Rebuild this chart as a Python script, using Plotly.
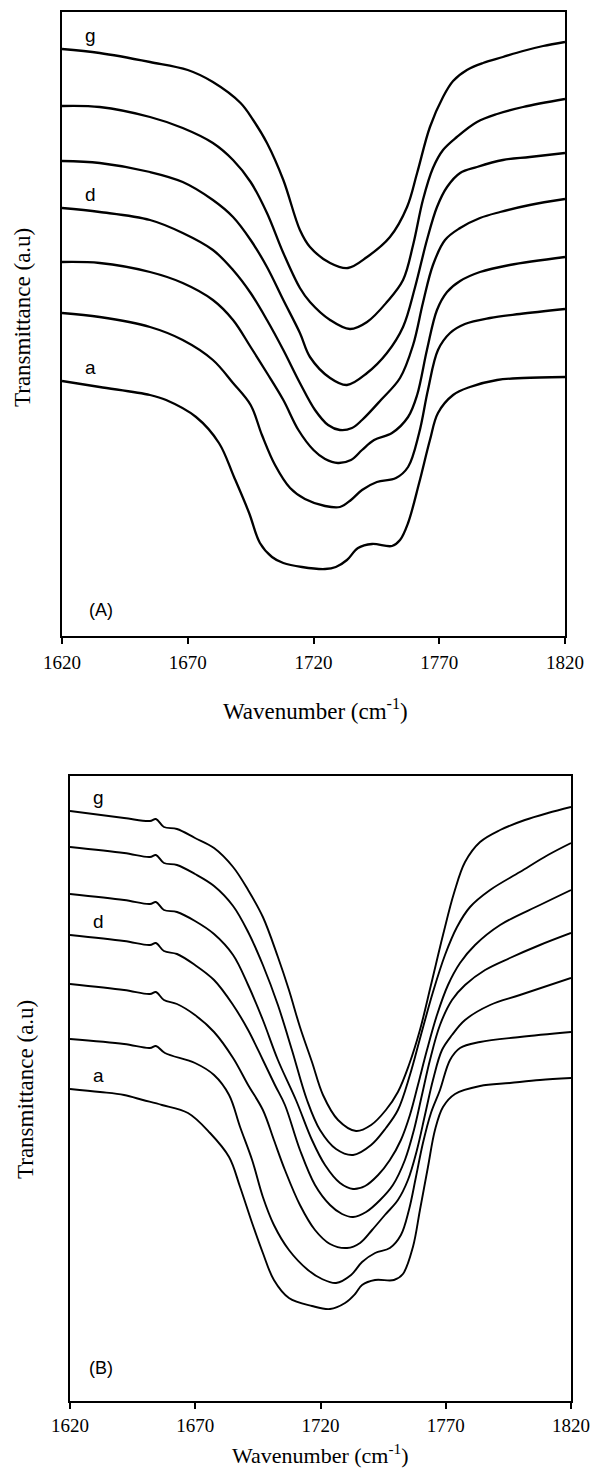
import plotly.graph_objects as go

# ---------------- data (wavenumber in cm-1, transmittance in arbitrary units) ----------------
wn_ticks = [1620, 1670, 1720, 1770, 1820]
curve_names = ["a", "b", "c", "d", "e", "f", "g"]
labelled_curves = ["a", "d", "g"]

# Panel (A)
A_g_wn = [1620, 1635, 1655, 1670, 1680, 1691, 1696, 1701.5, 1708, 1714.6, 1718.6, 1726.6, 1733.7, 1741.3, 1750.4, 1757.2, 1761.2, 1766.3, 1771.5, 1775.5, 1781, 1787.4, 1795.3, 1803.3, 1811.3, 1820]
A_g_T = [58.7, 58.3, 57.4, 56.6, 55.4, 53.3, 51.6, 49.3, 45.6, 40.6, 38.9, 37.3, 36.8, 37.9, 39.9, 42.9, 46.3, 50.9, 53.9, 55.5, 56.6, 57.3, 57.9, 58.5, 59.0, 59.4]

A_f_wn = [1620, 1635, 1655, 1668, 1680, 1688, 1695, 1701.5, 1708, 1714.6, 1718.6, 1726.6, 1734.5, 1741.3, 1749.2, 1755.6, 1759.6, 1763.5, 1767.5, 1771.5, 1777, 1785, 1793, 1803.3, 1820]
A_f_T = [53.0, 52.9, 51.9, 50.8, 49.3, 47.6, 45.4, 42.3, 38.3, 34.8, 33.4, 31.6, 30.7, 31.4, 33.4, 35.6, 39.1, 43.6, 46.8, 48.6, 49.9, 51.4, 52.2, 52.9, 53.7]

A_e_wn = [1620, 1635, 1655, 1668, 1680, 1688, 1695, 1701.5, 1708, 1714.6, 1718.6, 1726.6, 1733.3, 1741.3, 1749.2, 1755.6, 1760.4, 1765.1, 1769.1, 1773.1, 1778.3, 1785, 1795.3, 1806, 1820]
A_e_T = [47.5, 47.3, 46.4, 45.4, 43.6, 41.9, 39.6, 36.9, 33.6, 30.3, 27.9, 25.8, 25.1, 26.3, 28.3, 30.9, 34.9, 39.6, 42.9, 44.9, 46.3, 46.9, 47.6, 47.9, 48.3]

A_d_wn = [1620, 1635, 1655, 1668, 1680, 1688, 1695, 1701.5, 1708, 1714.6, 1720.6, 1725.8, 1730.5, 1735.3, 1739.3, 1746.8, 1754.4, 1759.6, 1763.5, 1767.5, 1772.3, 1778.3, 1786.2, 1794.2, 1806, 1820]
A_d_T = [42.8, 42.4, 41.6, 40.3, 38.6, 36.6, 34.3, 31.6, 28.6, 25.3, 22.6, 21.1, 20.6, 20.8, 21.6, 23.6, 25.8, 29.1, 33.3, 37.1, 39.6, 40.8, 41.8, 42.4, 43.1, 43.7]

A_c_wn = [1620, 1635, 1655, 1668, 1680, 1688, 1695, 1701.5, 1708, 1714, 1720, 1724.6, 1729.7, 1734.9, 1739.3, 1744.1, 1751.2, 1757.6, 1761.2, 1765.1, 1769.1, 1773.1, 1778.3, 1786.2, 1798, 1820]
A_c_T = [37.4, 37.3, 36.4, 35.3, 33.6, 31.6, 28.9, 26.3, 23.6, 20.6, 18.6, 17.7, 17.3, 17.6, 18.6, 19.6, 20.3, 21.9, 24.1, 28.6, 32.6, 34.4, 35.5, 36.4, 37.1, 37.9]

A_b_wn = [1620, 1635, 1655, 1668, 1680, 1688, 1695, 1699.5, 1704.7, 1710.7, 1716.6, 1724.6, 1730.5, 1734.9, 1739.3, 1745.2, 1752.8, 1757.6, 1762, 1765.5, 1769.5, 1774.3, 1780.2, 1790.2, 1802, 1820]
A_b_T = [32.3, 31.9, 30.9, 29.6, 27.6, 25.3, 23.1, 20.1, 17.1, 14.8, 13.7, 13.0, 12.9, 13.6, 14.6, 15.4, 15.8, 16.9, 20.3, 24.6, 28.6, 30.3, 31.2, 31.8, 32.2, 32.7]

A_a_wn = [1620, 1635, 1655, 1661.4, 1673.3, 1682.4, 1688.4, 1694.4, 1698.7, 1703.5, 1708, 1715.4, 1724.6, 1728.9, 1733.3, 1737.7, 1743.3, 1751.2, 1754.4, 1757.6, 1762, 1766.3, 1769.5, 1775.5, 1782.2, 1793, 1803.3, 1820]
A_a_T = [25.5, 24.9, 24.1, 23.6, 21.9, 19.3, 15.9, 12.3, 9.3, 7.9, 7.3, 6.9, 6.7, 6.9, 7.6, 8.8, 9.2, 9.0, 9.6, 11.3, 15.3, 19.6, 22.3, 24.1, 24.9, 25.6, 25.8, 25.9]

# Panel (B)
B_g_wn = [1620, 1641.6, 1651.9, 1654.3, 1657.5, 1662.7, 1669.9, 1677.5, 1685.1, 1691.1, 1697.0, 1703.0, 1707.4, 1711.8, 1716.6, 1721.0, 1727.0, 1734.2, 1740.2, 1746.1, 1750.9, 1755.3, 1759.7, 1764.1, 1768.9, 1773.3, 1777.7, 1783.7, 1791.7, 1801.6, 1810.8, 1820]
B_g_T = [59.0, 58.3, 58.0, 58.2, 57.4, 57.2, 56.3, 55.3, 53.4, 51.1, 48.4, 44.4, 41.1, 37.4, 33.9, 30.6, 28.1, 27.0, 27.6, 29.1, 30.9, 33.6, 37.1, 41.6, 46.6, 50.8, 53.9, 55.9, 57.1, 58.1, 58.8, 59.4]

B_f_wn = [1620, 1641.6, 1651.9, 1654.3, 1657.5, 1662.7, 1669.9, 1677.5, 1685.1, 1691.1, 1697.0, 1703.0, 1708.6, 1714.6, 1719.8, 1726.2, 1733.0, 1740.2, 1746.1, 1750.9, 1755.7, 1760.1, 1764.9, 1769.7, 1774.5, 1779.7, 1787.7, 1799.6, 1810.8, 1820]
B_f_T = [55.4, 54.8, 54.4, 54.6, 53.8, 53.6, 52.7, 51.5, 49.5, 46.9, 43.6, 39.6, 35.1, 30.1, 27.1, 25.2, 24.6, 25.6, 27.3, 29.1, 32.6, 36.6, 40.9, 44.6, 47.4, 49.4, 51.1, 52.9, 54.6, 55.8]

B_e_wn = [1620, 1641.6, 1651.9, 1654.3, 1657.5, 1662.7, 1669.9, 1677.5, 1685.1, 1691.1, 1697.0, 1703.0, 1710.2, 1716.6, 1721.8, 1727.8, 1733.0, 1737.8, 1743.0, 1747.7, 1752.1, 1755.7, 1758.9, 1762.5, 1766.5, 1770.9, 1775.7, 1781.7, 1791.7, 1807.6, 1820]
B_e_T = [50.7, 50.1, 49.7, 49.9, 49.1, 48.9, 48.0, 46.7, 44.6, 41.6, 38.1, 34.1, 30.1, 26.1, 23.6, 21.8, 21.2, 21.5, 22.6, 24.1, 26.1, 28.6, 31.6, 35.1, 38.6, 41.6, 43.8, 45.6, 47.6, 49.6, 51.1]

B_d_wn = [1620, 1641.6, 1651.9, 1654.3, 1657.5, 1662.7, 1669.9, 1677.5, 1685.1, 1691.1, 1697.0, 1701.8, 1705.8, 1711.8, 1717.8, 1723.8, 1728.6, 1733.0, 1738.2, 1743.8, 1748.9, 1753.7, 1757.3, 1760.5, 1763.7, 1767.7, 1772.5, 1777.7, 1785.7, 1795.6, 1807.6, 1820]
B_d_T = [46.6, 46.0, 45.6, 45.8, 45.0, 44.7, 43.6, 42.1, 39.6, 37.1, 34.1, 31.6, 29.6, 25.1, 21.6, 19.6, 18.7, 18.4, 18.9, 20.1, 21.6, 24.1, 27.1, 30.6, 34.1, 37.6, 40.1, 41.6, 43.1, 44.3, 45.6, 46.8]

B_c_wn = [1620, 1641.6, 1651.9, 1654.3, 1657.5, 1662.7, 1669.9, 1677.5, 1685.1, 1691.1, 1697.0, 1701.4, 1705.8, 1711.8, 1717.8, 1723.8, 1730.6, 1735.8, 1740.6, 1745.7, 1750.9, 1754.9, 1758.5, 1761.7, 1764.9, 1768.5, 1772.5, 1777.7, 1787.7, 1799.6, 1820]
B_c_T = [41.7, 41.1, 40.7, 40.9, 40.1, 39.7, 38.6, 36.9, 34.3, 31.6, 29.1, 26.1, 23.1, 19.6, 17.1, 15.7, 15.3, 15.8, 17.1, 18.6, 20.1, 22.1, 25.1, 28.6, 32.1, 35.1, 36.6, 38.1, 39.6, 40.6, 42.3]

B_b_wn = [1620, 1641.6, 1651.9, 1654.3, 1657.9, 1669.9, 1677.5, 1683.5, 1687.9, 1692.7, 1697.0, 1701.4, 1707.4, 1715.0, 1720.6, 1726.2, 1732.2, 1736.6, 1741.8, 1747.7, 1752.1, 1755.3, 1758.1, 1760.9, 1764.1, 1767.7, 1771.7, 1775.7, 1783.7, 1799.6, 1820]
B_b_T = [36.2, 35.7, 35.3, 35.5, 34.8, 33.8, 32.6, 30.6, 27.4, 24.1, 20.4, 17.6, 15.1, 13.1, 12.2, 11.8, 12.6, 13.9, 14.8, 15.3, 16.6, 19.1, 22.4, 25.8, 28.8, 31.1, 34.1, 35.3, 35.9, 36.4, 36.9]

B_a_wn = [1620, 1632.0, 1641.6, 1649.1, 1656.7, 1667.1, 1675.9, 1683.5, 1687.9, 1692.7, 1697.0, 1701.4, 1707.4, 1716.6, 1723.8, 1729.8, 1733.8, 1736.6, 1741.8, 1749.3, 1752.9, 1756.9, 1759.7, 1762.9, 1765.7, 1768.9, 1773.7, 1783.7, 1795.6, 1807.6, 1820]
B_a_T = [31.2, 30.9, 30.6, 30.1, 29.6, 28.8, 26.8, 24.4, 21.4, 17.8, 14.8, 12.1, 10.3, 9.5, 9.2, 9.8, 10.7, 11.6, 12.1, 12.1, 12.7, 15.4, 19.1, 23.4, 27.1, 29.4, 30.7, 31.5, 31.8, 32.1, 32.3]

panel_A = {"a": (A_a_wn, A_a_T), "b": (A_b_wn, A_b_T), "c": (A_c_wn, A_c_T), "d": (A_d_wn, A_d_T),
           "e": (A_e_wn, A_e_T), "f": (A_f_wn, A_f_T), "g": (A_g_wn, A_g_T)}
panel_B = {"a": (B_a_wn, B_a_T), "b": (B_b_wn, B_b_T), "c": (B_c_wn, B_c_T), "d": (B_d_wn, B_d_T),
           "e": (B_e_wn, B_e_T), "f": (B_f_wn, B_f_T), "g": (B_g_wn, B_g_T)}

# ---------------- layout geometry (pixels) ----------------
W, H = 591, 1474
A_box = dict(l=62, r=565, t=12, b=636)
B_box = dict(l=70, r=571, t=776, b=1401)

SERIF = "Liberation Serif"
SANS = "Liberation Sans"

fig = go.Figure()

for name in curve_names:
    wn, T = panel_A[name]
    fig.add_trace(go.Scatter(x=wn, y=T, mode="lines", xaxis="x", yaxis="y",
                             line=dict(color="black", width=2.3, shape="spline", smoothing=1.0),
                             hoverinfo="skip", showlegend=False))
    wn, T = panel_B[name]
    fig.add_trace(go.Scatter(x=wn, y=T, mode="lines", xaxis="x2", yaxis="y2",
                             line=dict(color="black", width=1.9, shape="spline", smoothing=1.0),
                             hoverinfo="skip", showlegend=False))


def px_x(p):
    return p / W


def px_y(p):
    return 1 - p / H


def xaxis_cfg(box, standoff):
    return dict(domain=[px_x(box["l"]), px_x(box["r"])], range=[1620, 1820],
                tickmode="array", tickvals=wn_ticks, ticktext=[str(v) for v in wn_ticks],
                ticks="outside", ticklen=6, tickwidth=1.5, tickcolor="black",
                showline=True, linecolor="black", linewidth=1.6, mirror=True,
                showgrid=False, zeroline=False, ticklabelstandoff=standoff,
                tickfont=dict(family=SERIF, size=19, color="black"))


def yaxis_cfg(box, top):
    return dict(domain=[px_y(box["b"]), px_y(box["t"])], range=[0, top],
                showticklabels=False, ticks="", showline=True, linecolor="black",
                linewidth=1.6, mirror=True, showgrid=False, zeroline=False)


annotations = []
for name in labelled_curves:
    for panel, xr, yr in ((panel_A, "x", "y"), (panel_B, "x2", "y2")):
        wn, T = panel[name]
        annotations.append(dict(x=1631.5, y=T[0] + 0.1, xref=xr, yref=yr, text=name,
                                showarrow=False, xanchor="center", yanchor="bottom",
                                font=dict(family=SANS, size=19, color="black")))

annotations += [
    dict(x=1635.5, y=2.6, xref="x", yref="y", text="(A)", showarrow=False,
         xanchor="center", yanchor="middle", font=dict(family=SANS, size=18, color="black")),
    dict(x=1632.5, y=3.3, xref="x2", yref="y2", text="(B)", showarrow=False,
         xanchor="center", yanchor="middle", font=dict(family=SANS, size=18, color="black")),
    dict(x=px_x(22), y=px_y(318), xref="paper", yref="paper", text="Transmittance (a.u)",
         textangle=-90, showarrow=False, xanchor="center", yanchor="middle",
         font=dict(family=SERIF, size=23, color="black")),
    dict(x=px_x(25), y=px_y(1090), xref="paper", yref="paper", text="Transmittance (a.u)",
         textangle=-90, showarrow=False, xanchor="center", yanchor="middle",
         font=dict(family=SERIF, size=23, color="black")),
    dict(x=px_x(315), y=px_y(710), xref="paper", yref="paper", text="Wavenumber (cm<sup>-1</sup>)",
         showarrow=False, xanchor="center", yanchor="middle",
         font=dict(family=SERIF, size=23, color="black")),
    dict(x=px_x(320), y=px_y(1454), xref="paper", yref="paper", text="Wavenumber (cm<sup>-1</sup>)",
         showarrow=False, xanchor="center", yanchor="middle",
         font=dict(family=SERIF, size=22, color="black")),
]

fig.update_layout(
    width=W, height=H, margin=dict(l=0, r=0, t=0, b=0, autoexpand=False),
    paper_bgcolor="white", plot_bgcolor="white", showlegend=False,
    xaxis=xaxis_cfg(A_box, 2), yaxis=yaxis_cfg(A_box, (A_box["b"] - A_box["t"]) / 10),
    xaxis2=xaxis_cfg(B_box, 0), yaxis2=yaxis_cfg(B_box, (B_box["b"] - B_box["t"]) / 10),
    annotations=annotations,
)
fig.update_layout(yaxis2=dict(anchor="x2"), xaxis2=dict(anchor="y2"))

fig.write_html("out.html")
